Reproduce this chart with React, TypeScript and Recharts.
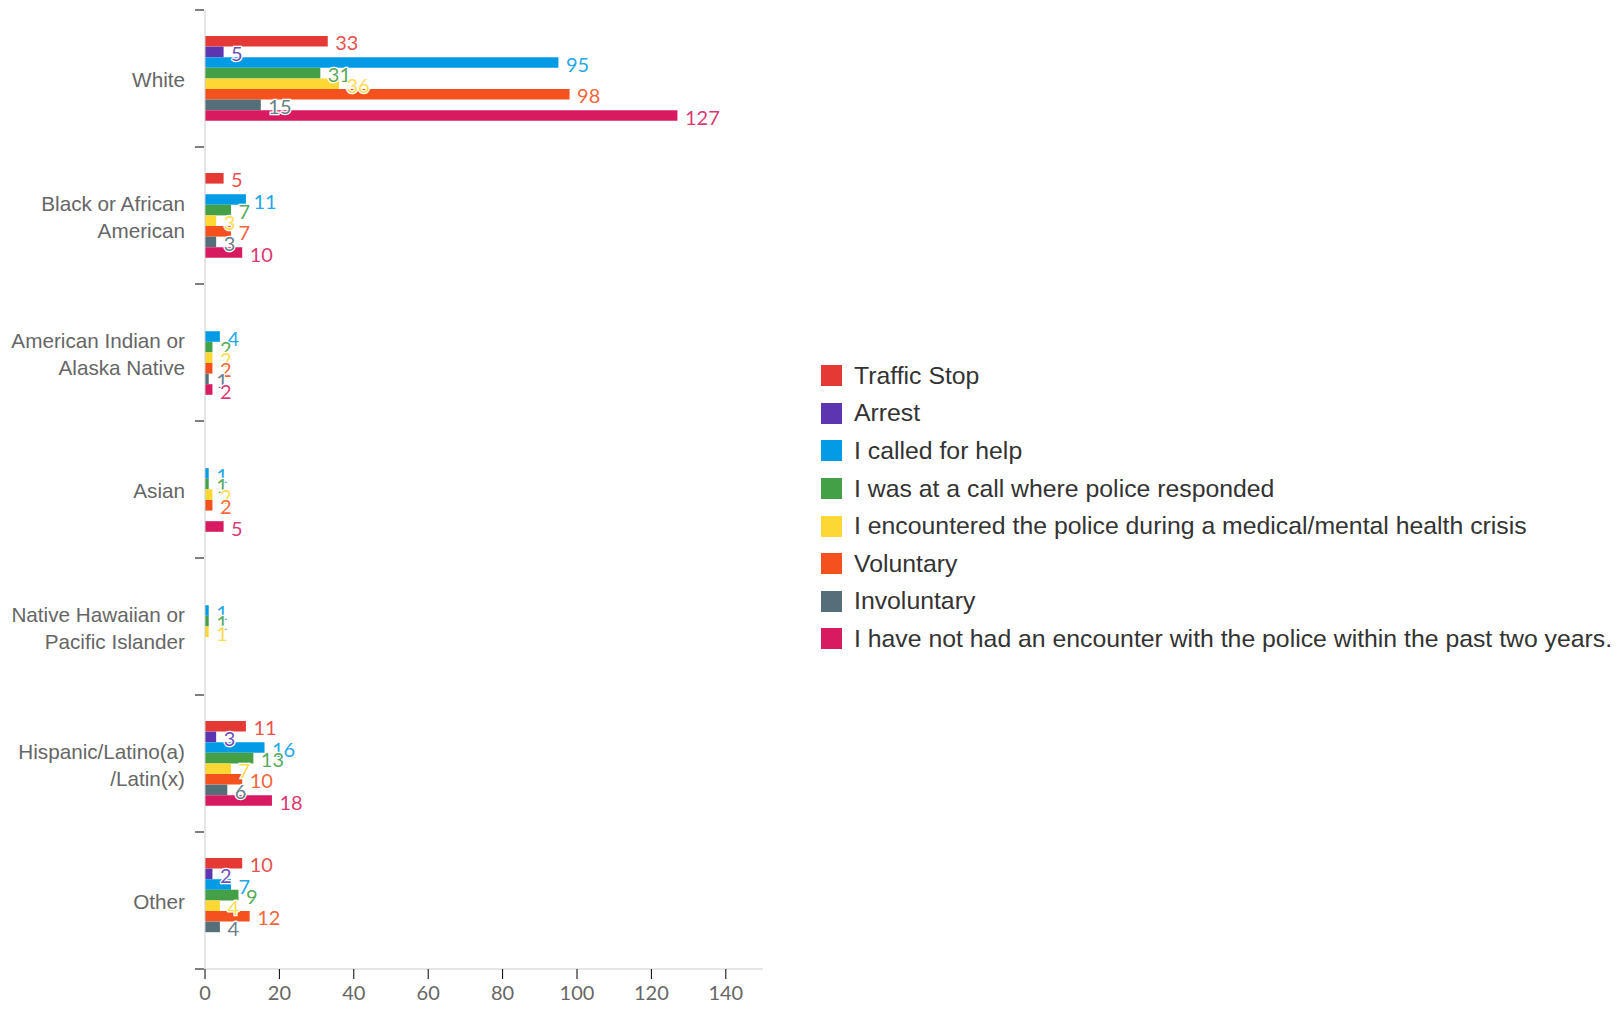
import { Bar, BarChart, LabelList, XAxis, YAxis } from 'recharts';

const categories = [
  'White',
  'Black or African American',
  'American Indian or Alaska Native',
  'Asian',
  'Native Hawaiian or Pacific Islander',
  'Hispanic/Latino(a)/Latin(x)',
  'Other',
];

const categoryLines: Record<string, string[]> = {
  White: ['White'],
  'Black or African American': ['Black or African', 'American'],
  'American Indian or Alaska Native': ['American Indian or', 'Alaska Native'],
  Asian: ['Asian'],
  'Native Hawaiian or Pacific Islander': ['Native Hawaiian or', 'Pacific Islander'],
  'Hispanic/Latino(a)/Latin(x)': ['Hispanic/Latino(a)', '/Latin(x)'],
  Other: ['Other'],
};

const trafficStop = [33, 5, 0, 0, 0, 11, 10];
const arrest = [5, 0, 0, 0, 0, 3, 2];
const calledForHelp = [95, 11, 4, 1, 1, 16, 7];
const callResponded = [31, 7, 2, 1, 1, 13, 9];
const healthCrisis = [36, 3, 2, 2, 1, 7, 4];
const voluntary = [98, 7, 2, 2, 0, 10, 12];
const involuntary = [15, 3, 1, 0, 0, 6, 4];
const noEncounter = [127, 10, 2, 5, 0, 18, 0];

const xTicks = [0, 20, 40, 60, 80, 100, 120, 140];

const SERIES = [
  { key: 'traffic', name: 'Traffic Stop', color: '#e53935', values: trafficStop },
  { key: 'arrest', name: 'Arrest', color: '#5e35b1', values: arrest },
  { key: 'called', name: 'I called for help', color: '#039be5', values: calledForHelp },
  { key: 'responded', name: 'I was at a call where police responded', color: '#43a047', values: callResponded },
  { key: 'crisis', name: 'I encountered the police during a medical/mental health crisis', color: '#fdd835', values: healthCrisis },
  { key: 'voluntary', name: 'Voluntary', color: '#f4511e', values: voluntary },
  { key: 'involuntary', name: 'Involuntary', color: '#546e7a', values: involuntary },
  { key: 'none', name: 'I have not had an encounter with the police within the past two years.', color: '#d81b60', values: noEncounter },
];

const chartData = categories.map((category, index) => {
  const row: Record<string, string | number> = { category };
  for (const series of SERIES) row[series.key] = series.values[index];
  return row;
});

const FONT = '"Liberation Sans", Arial, sans-serif';
const LABEL_FONT = 'Lato, "Liberation Sans", sans-serif';
const WIDTH = 765;
const HEIGHT = 997;
const X_AXIS_HEIGHT = 36;
const MARGIN = { top: 2, right: 10, bottom: 0, left: 10 };
const BAND = (HEIGHT - MARGIN.top - X_AXIS_HEIGHT) / categories.length;

function CategoryTick(props: any) {
  const { x, y, payload, index } = props;
  const lines = categoryLines[payload.value] ?? [payload.value];
  const lineHeight = 27;
  const startY = y + 1 - ((lines.length - 1) * lineHeight) / 2;
  const axisX = x + 8;
  return (
    <g>
      <line x1={axisX - 10} x2={axisX - 1} y1={y - BAND / 2} y2={y - BAND / 2} stroke="#000" />
      {index === categories.length - 1 && (
        <line x1={axisX - 10} x2={axisX - 1} y1={y + BAND / 2} y2={y + BAND / 2} stroke="#000" />
      )}
      {lines.map((line: string, ii: number) => (
        <text
          key={ii}
          x={x - 12}
          y={startY + ii * lineHeight}
          textAnchor="end"
          dominantBaseline="central"
          fontSize={20.7}
          fill="#666"
          fontFamily={FONT}
        >
          {line}
        </text>
      ))}
    </g>
  );
}

function makeLabel(color: string) {
  return function ValueLabel(props: any) {
    const { x, y, width, height, value } = props;
    if (!value) return null;
    return (
      <text
        x={x + width + 7.5}
        y={y + height / 2 + 1}
        dominantBaseline="central"
        fontSize={20}
        fill={color}
        fillOpacity={0.9}
        stroke="#fff"
        strokeWidth={2.5}
        paintOrder="stroke"
        fontFamily={LABEL_FONT}
      >
        {value}
      </text>
    );
  };
}

export default function App() {
  return (
    <div
      style={{
        position: 'relative',
        width: 1605,
        height: HEIGHT,
        overflow: 'hidden',
        fontFamily: FONT,
      }}
    >
      <BarChart
        width={WIDTH}
        height={HEIGHT}
        data={chartData}
        layout="vertical"
        margin={MARGIN}
        barGap={0}
        barSize={10.6}
      >
        <XAxis
          type="number"
          domain={[0, 150]}
          ticks={xTicks}
          stroke="#ccc"
          tickLine={{ stroke: '#000' }}
          tickSize={10}
          height={X_AXIS_HEIGHT}
          tick={{ fill: '#666', fontSize: 20, fontFamily: LABEL_FONT, dy: 5 }}
        />
        <YAxis
          type="category"
          dataKey="category"
          width={187}
          stroke="#ccc"
          tickLine={false}
          tick={<CategoryTick />}
          interval={0}
        />
        {SERIES.map((series) => (
          <Bar
            key={series.key}
            dataKey={series.key}
            name={series.name}
            fill={series.color}
            isAnimationActive={false}
          >
            <LabelList dataKey={series.key} content={makeLabel(series.color)} />
          </Bar>
        ))}
      </BarChart>
      <div style={{ position: 'absolute', left: 813, top: 349 }}>
        {SERIES.map((series) => (
          <div
            key={series.key}
            style={{
              display: 'flex',
              alignItems: 'center',
              height: 37.6,
              fontSize: 24.8,
              color: '#333',
              whiteSpace: 'nowrap',
            }}
          >
            <span
              style={{ display: 'inline-block', width: 21, height: 21, background: series.color, marginRight: 12 }}
            />
            <span>{series.name}</span>
          </div>
        ))}
      </div>
    </div>
  );
}
